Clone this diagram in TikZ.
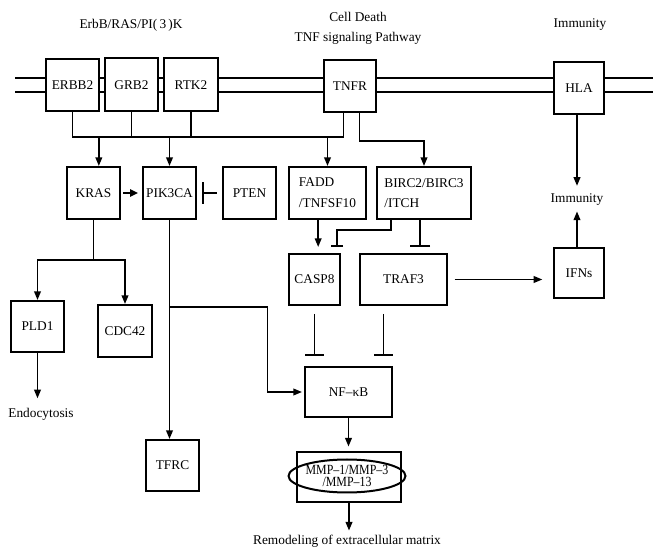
\documentclass[tikz,border=0pt]{standalone}
\usepackage{fontspec}
\setmainfont{Liberation Serif}
\usetikzlibrary{arrows.meta,shapes.geometric}

\begin{document}
\begin{tikzpicture}[x=0.75pt,y=-0.75pt,font=\fontsize{10}{12}\selectfont,
   box/.style={draw,line width=1.5pt,fill=white,inner sep=0pt},
   wh/.style 2 args={minimum width=#1*0.75pt,minimum height=#2*0.75pt},
   two/.style={align=left,font=\fontsize{10}{15.5}\selectfont},
   lbl/.style={inner sep=1pt},
   ln/.style={line width=1.25pt},
   arr/.style={line width=1.25pt,-{Triangle[length=6.5pt,width=5pt]}},
   inh/.style={line width=1.25pt,-{Bar[width=#1]}},
   inh/.default=12pt]
   \useasboundingbox (0,0) rectangle (653,548);
   % membrane
   \draw[line width=1.5pt] (15,78) -- (653,78);
   \draw[line width=1.5pt] (15,92) -- (653,92);
   % titles
   \node[lbl] (tErb) at (131,25) {ErbB/RAS/PI(\,3\,)K};
   \node[lbl] (tDeath) at (358,17) {Cell Death};
   \node[lbl] (tTnf) at (358,38) {TNF signaling Pathway};
   \node[lbl] (tImm) at (580,25) {Immunity};
   % receptors
   \node[box,wh={53}{52}] (erbb) at (72.5,85) {ERBB2};
   \node[box,wh={53}{53}] (grb) at (131.5,85) {GRB2};
   \node[box,wh={54}{53}] (rtk) at (191,85) {RTK2};
   \node[box,wh={52}{52}] (tnfr) at (350,86) {TNFR};
   \node[box,wh={50}{52}] (hla) at (579,88) {HLA};
   % second row
   \node[box,wh={53}{52}] (kras) at (93.5,193) {KRAS};
   \node[box,wh={53}{52}] (pik) at (169.5,193) {PIK3CA};
   \node[box,wh={53}{52}] (pten) at (249.5,193) {PTEN};
   \node[box,wh={77}{52},two] (fadd) at (327.5,193) {FADD\\/TNFSF10};
   \node[box,wh={94}{52},two] (birc) at (424,193) {BIRC2/BIRC3\\/ITCH};
   \node[lbl] (imm) at (577,200) {Immunity};
   % third row
   \node[box,wh={51}{51}] (casp) at (314.5,279.5) {CASP8};
   \node[box,wh={87}{51}] (traf) at (403.5,279.5) {TRAF3};
   \node[box,wh={50}{50}] (ifn) at (579,273) {IFNs};
   \node[box,wh={53}{51}] (pld) at (37.5,326.5) {PLD1};
   \node[box,wh={54}{52}] (cdc) at (125,331) {CDC42};
   \node[lbl] (endo) at (41,414) {Endocytosis};
   \node[box,wh={87}{50}] (nfkb) at (348.5,392) {NF–κB};
   \node[box,wh={53}{51}] (tfrc) at (172.5,465.5) {TFRC};
   \node[box,line width=2.2pt,wh={104}{50}] (mmpbox) at (349,477) {};
   \node[draw,ellipse,line width=1.5pt,inner sep=0pt,wh={95}{33},align=center,
     font=\fontsize{10.5}{9.5}\selectfont] (mmp) at (347,476)
     {\scalebox{0.85}[1]{MMP–1/MMP–3}\\\scalebox{0.85}[1]{/MMP–13}};
   \node[inner sep=0pt] (remod) at (347,541) {Remodeling of extracellular matrix};
   % bus under the receptors
   \coordinate (busW) at (0,137);
   \draw[ln] (erbb.south) -- (erbb.south |- busW) -- ([xshift=-5pt]tnfr.south |- busW)
     -- ([xshift=-5pt]tnfr.south);
   \draw[ln] (grb.south) -- (grb.south |- busW);
   \draw[ln] (rtk.south) -- (rtk.south |- busW);
   \draw[arr] ([xshift=4pt]kras.north |- busW) -- ([xshift=4pt]kras.north);
   \draw[arr] (pik.north |- busW) -- (pik.north);
   \draw[arr] (fadd.north |- busW) -- (fadd.north);
   \draw[arr] ([xshift=7pt]tnfr.south) -- ++(0,28) -| (birc.north);
   % ras / pi3k branch
   \draw[line width=2.2pt,-{Triangle[length=6pt,width=5.5pt]},shorten <=1.5pt,shorten >=3pt]
     (kras.east) -- (pik.west);
   \draw[inh=16pt,shorten <=4pt,shorten >=4pt] (pten.west) -- (pik.east);
   \draw[ln] (kras.south) -- ++(0,40) coordinate (kfork);
   \draw[arr] (kfork) -| (pld.north);
   \draw[arr] (kfork) -| (cdc.north);
   \draw[arr,shorten >=6pt] (pld.south) -- (pld.south |- endo.north);
   \draw[arr] (pik.south) -- (pik.south |- tfrc.north);
   \coordinate (fork) at (pik.south |- 0,307);
   \draw[arr,shorten >=1.5pt] (fork) -- ++(98,0) |- (nfkb.west);
   % cell death
   \draw[arr,shorten >=4.5pt] ([xshift=-7pt]fadd.south) -- ([xshift=-7pt]fadd.south |- casp.north);
   \draw[inh=9pt,shorten >=4.5pt] ([xshift=-25pt]birc.south) -- ++(0,10)
     -| ([xshift=17pt]casp.north);
   \draw[inh=15pt,shorten >=4.5pt] ([xshift=-3pt]birc.south) -- ([xshift=-3pt]birc.south |- traf.north);
   \draw[inh=14pt,shorten <=6pt,shorten >=7.5pt] (casp.south) -- (casp.south |- nfkb.north);
   \draw[inh=14pt,shorten <=6pt,shorten >=7.5pt] ([xshift=-15pt]traf.south)
     -- ([xshift=-15pt]traf.south |- nfkb.north);
   \draw[arr,shorten >=3pt] (nfkb.south) -- (nfkb.south |- mmpbox.north);
   \draw[arr,shorten >=3pt] (mmpbox.south) -- (mmpbox.south |- remod.north);
   % immunity
   \draw[arr,shorten <=5pt,shorten >=8pt] (traf.east) -- (traf.east -| ifn.west);
   \draw[arr,shorten >=5pt] ([xshift=-1.5pt]hla.south) -- ([xshift=-1.5pt]hla.south |- imm.north);
   \draw[arr,shorten >=3pt] ([xshift=-1.5pt]ifn.north) -- ([xshift=-1.5pt]ifn.north |- imm.south);
\end{tikzpicture}
\end{document}
